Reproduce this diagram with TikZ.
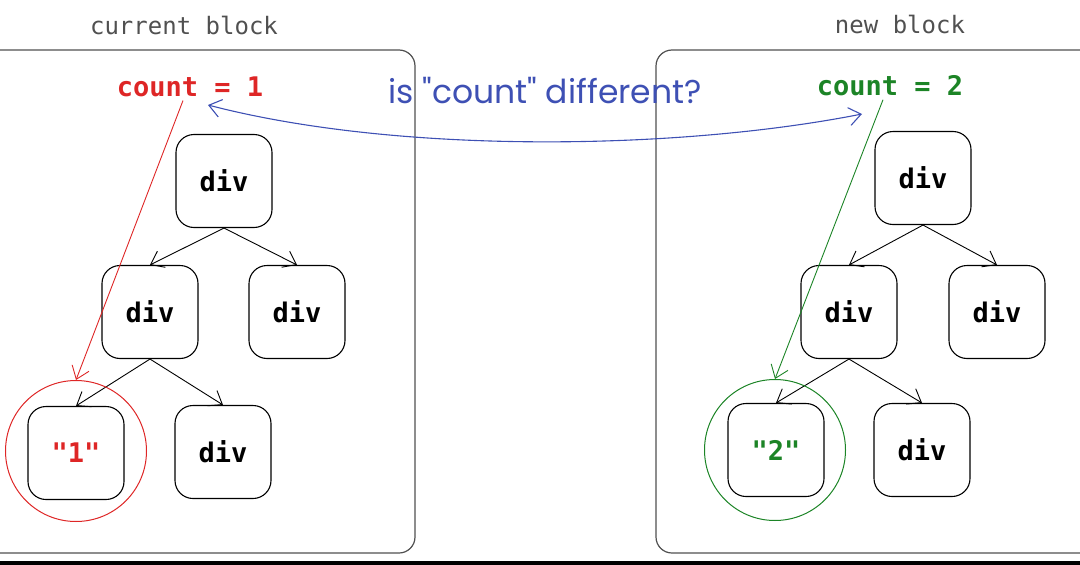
\documentclass[tikz,border=0pt]{standalone}
\usepackage{fontspec}
\setmainfont{DejaVu Sans}
\setmonofont{DejaVu Sans Mono}
\newfontfamily\handfont{Poppins}
\usepackage{tikz}
\usetikzlibrary{arrows.meta}

\definecolor{oldred}{RGB}{222,38,38}
\definecolor{newgreen}{RGB}{28,132,38}
\definecolor{askblue}{RGB}{62,80,180}
\definecolor{framegray}{RGB}{80,80,80}

\begin{document}
\begin{tikzpicture}[x=1pt, y=-1pt,
  domnode/.style={draw, rounded corners=18pt, line width=1.1pt, minimum width=96pt, minimum height=93pt, font=\fontsize{27}{30}\selectfont\ttfamily\bfseries},
  blockframe/.style={draw=framegray, rounded corners=16pt, line width=1.2pt},
  blocktitle/.style={text=framegray, font=\fontsize{24}{28}\selectfont\ttfamily},
  countlabel/.style={font=\fontsize{27}{30}\selectfont\ttfamily\bfseries},
  treearrow/.style={-{Straight Barb[length=12pt, width=18pt]}, line width=0.9pt},
  ring/.style={circle, draw, line width=1pt, minimum size=141pt, inner sep=0pt}]
\useasboundingbox (0,0) rectangle (1080,565);

% the two blocks
\draw[blockframe] (-20,50) rectangle (415,553);
\draw[blockframe] (656,50) rectangle (1100,553);
\fill[black] (0,561) rectangle (1080,565);
\node[blocktitle] (CurTitle) at (184,25) {current block};
\node[blocktitle] (NewTitle) at (900,24) {new block};

% current block
\node[countlabel, text=oldred] (CurCount) at (190,87) {count = 1};
\node[domnode] (CurTop) at (224,181) {div};
\node[domnode] (CurLeft) at (150,312) {div};
\node[domnode] (CurRight) at (297,312) {div};
\node[domnode, text=oldred] (CurText) at (76,453) {"1"};
\node[domnode] (CurBottom) at (223,452) {div};
\draw[treearrow] (CurTop.south) -- (CurLeft.north);
\draw[treearrow] (CurTop.south) -- (CurRight.north);
\draw[treearrow] (CurLeft.south) -- (CurText.north);
\draw[treearrow] (CurLeft.south) -- (CurBottom.north);
\node[ring, draw=oldred] (CurRing) at (76,451) {};
\draw[treearrow, oldred] ([xshift=-7pt]CurCount.south) -- (CurRing.north);

% new block
\node[countlabel, text=newgreen] (NewCount) at (890,86) {count = 2};
\node[domnode] (NewTop) at (923,178) {div};
\node[domnode] (NewLeft) at (849,312) {div};
\node[domnode] (NewRight) at (997,312) {div};
\node[domnode, text=newgreen] (NewText) at (776,450) {"2"};
\node[domnode] (NewBottom) at (922,450) {div};
\draw[treearrow] (NewTop.south) -- (NewLeft.north);
\draw[treearrow] (NewTop.south) -- (NewRight.north);
\draw[treearrow] (NewLeft.south) -- (NewText.north);
\draw[treearrow] (NewLeft.south) -- (NewBottom.north);
\node[ring, draw=newgreen] (NewRing) at (775,450) {};
\draw[treearrow, newgreen] ([xshift=-7pt]NewCount.south) -- (NewRing.north);

% comparison
\node[text=askblue, font=\fontsize{33}{36}\selectfont\handfont] (Question) at (545,91) {is "count" different?};
\coordinate (CurEnd) at (208,105);
\coordinate (NewEnd) at (862,114);
\draw[askblue, line width=1.1pt, {Straight Barb[length=12pt, width=18pt]}-{Straight Barb[length=12pt, width=18pt]}]
  (CurEnd) .. controls (400,155) and (680,150) .. (NewEnd);
\end{tikzpicture}
\end{document}
